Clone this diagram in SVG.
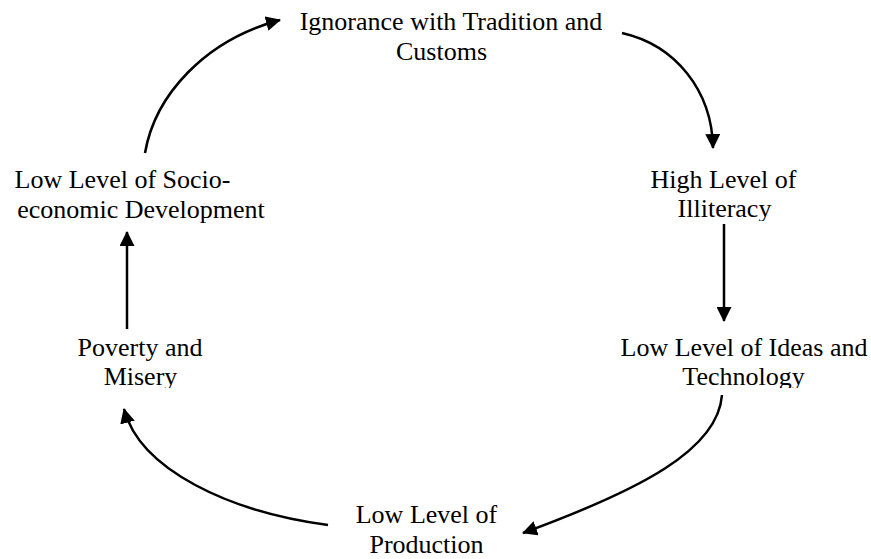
<svg xmlns="http://www.w3.org/2000/svg" width="871" height="559" viewBox="0 0 871 559">
<defs>
<style>
text{font-family:"Liberation Serif","Times New Roman",serif;font-size:26px;fill:#000;text-anchor:middle}
.c{fill:none;stroke:#000;stroke-width:2.5}
</style>
<marker id="ah" viewBox="0 0 15 15" refX="14" refY="7.5" markerWidth="15" markerHeight="15" markerUnits="userSpaceOnUse" orient="auto">
<path d="M0,0 L15,7.5 L0,15 Z" fill="#000"/>
</marker>
<clipPath id="clipIll"><rect x="600" y="150" width="271" height="71"/></clipPath>
<clipPath id="clipMis"><rect x="40" y="320" width="220" height="68"/></clipPath>
<clipPath id="clipTec"><rect x="600" y="320" width="271" height="68"/></clipPath>
</defs>
<rect width="871" height="559" fill="#fff"/>
<g id="connectors">
<path class="c" d="M145,153 C155,95 205,40 280,20" marker-end="url(#ah)"/>
<path class="c" d="M622,33 C675,45 712,90 713,148" marker-end="url(#ah)"/>
<path class="c" d="M724,224 L724,321" marker-end="url(#ah)"/>
<path class="c" d="M722,395 C718,450 640,490 523,533" marker-end="url(#ah)"/>
<path class="c" d="M328,525 C230,512 140,470 124,409" marker-end="url(#ah)"/>
<path class="c" d="M127,329 L127,232" marker-end="url(#ah)"/>
</g>
<g id="node-ignorance">
<text x="451" y="30">Ignorance with Tradition and</text>
<text x="441.5" y="60">Customs</text>
</g>
<g id="node-illiteracy" clip-path="url(#clipIll)">
<text x="723.5" y="188">High Level of</text>
<text x="724.5" y="217">Illiteracy</text>
</g>
<g id="node-ideas" clip-path="url(#clipTec)">
<text x="744" y="356">Low Level of Ideas and</text>
<text x="743.5" y="385">Technology</text>
</g>
<g id="node-production">
<text x="426.5" y="523">Low Level of</text>
<text x="426.5" y="553">Production</text>
</g>
<g id="node-poverty" clip-path="url(#clipMis)">
<text x="140" y="356">Poverty and</text>
<text x="140.5" y="385">Misery</text>
</g>
<g id="node-socio">
<text x="122.5" y="188">Low Level of Socio-</text>
<text x="141" y="218">economic Development</text>
</g>
</svg>
